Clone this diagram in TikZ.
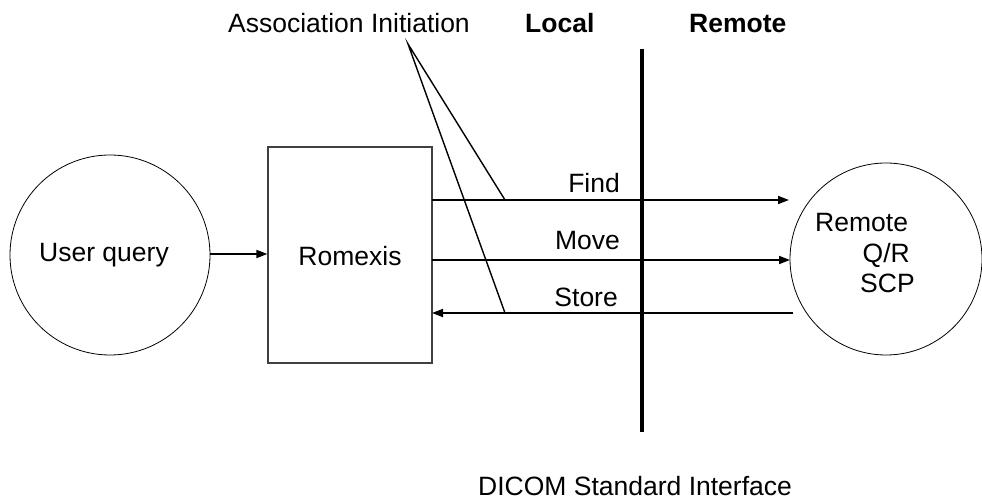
\documentclass[tikz,border=0pt]{standalone}
\usepackage{fontspec}
\setmainfont{Liberation Sans}
\usetikzlibrary{arrows.meta}
\begin{document}
\begin{tikzpicture}[x=1pt,y=-1pt,
  lbl/.style={inner sep=0pt,font=\fontsize{26.5}{31}\selectfont},
  bubble/.style={circle,draw,line width=0.8pt,inner sep=0pt},
  box/.style={draw=black!75,line width=1.2pt,inner sep=0pt},
  msg/.style={line width=1.8pt,-{Triangle[length=11pt,width=8pt]}},
  pointer/.style={line width=1.4pt}]
\useasboundingbox (0,0) rectangle (982,502);
% nodes
\node[bubble,minimum size=200pt] (user) at (110,255) {};
\node[lbl,anchor=base] (usertxt) at (104,262) {User query};
\node[box,minimum width=164pt,minimum height=216pt] (rom) at (350,255) {};
\node[lbl,anchor=base] (romtxt) at (350,266) {Romexis};
\node[bubble,minimum size=192pt] (remote) at (886,259) {};
\node[lbl,anchor=base west] (r1) at (815,232) {Remote};
\node[lbl,anchor=base east] (r2) at (910,263) {Q/R};
\node[lbl,anchor=base west] (r3) at (860,293) {SCP};
% labels
\node[lbl,anchor=base west] (assoc) at (228,33) {Association Initiation};
\node[lbl,anchor=base west] (local) at (525,33) {\bfseries Local};
\node[lbl,anchor=base west] (remlbl) at (689,33) {\bfseries Remote};
\node[lbl,anchor=base west] (dicom) at (478,495) {DICOM Standard Interface};
\node[lbl,anchor=base east] (find) at (620,193) {Find};
\node[lbl,anchor=base east] (move) at (620,250) {Move};
\node[lbl,anchor=base east] (store) at (618,307) {Store};
% interface line
\coordinate (itop) at (642,49);
\coordinate (ibot) at (642,432);
\draw[line width=4pt] (itop) -- (ibot);
% coordinates
\coordinate (fs) at (432,200);
\coordinate (fe) at (789,200);
\coordinate (ms) at (432,260);
\coordinate (me) at (790,260);
\coordinate (ss) at (793,313);
\coordinate (se) at (432,313);
\coordinate (apex) at (408,44);
\coordinate (fa) at (505,200);
\coordinate (sa) at (505,313);
% connectors
\draw[msg] (user.east |- 0,254) -- (rom.west |- 0,254);
\draw[msg] (fs) -- (fe);
\draw[msg] (ms) -- (me);
\draw[msg] (ss) -- (se);
\draw[pointer] (fa) -- (apex) -- (sa);
\end{tikzpicture}
\end{document}
